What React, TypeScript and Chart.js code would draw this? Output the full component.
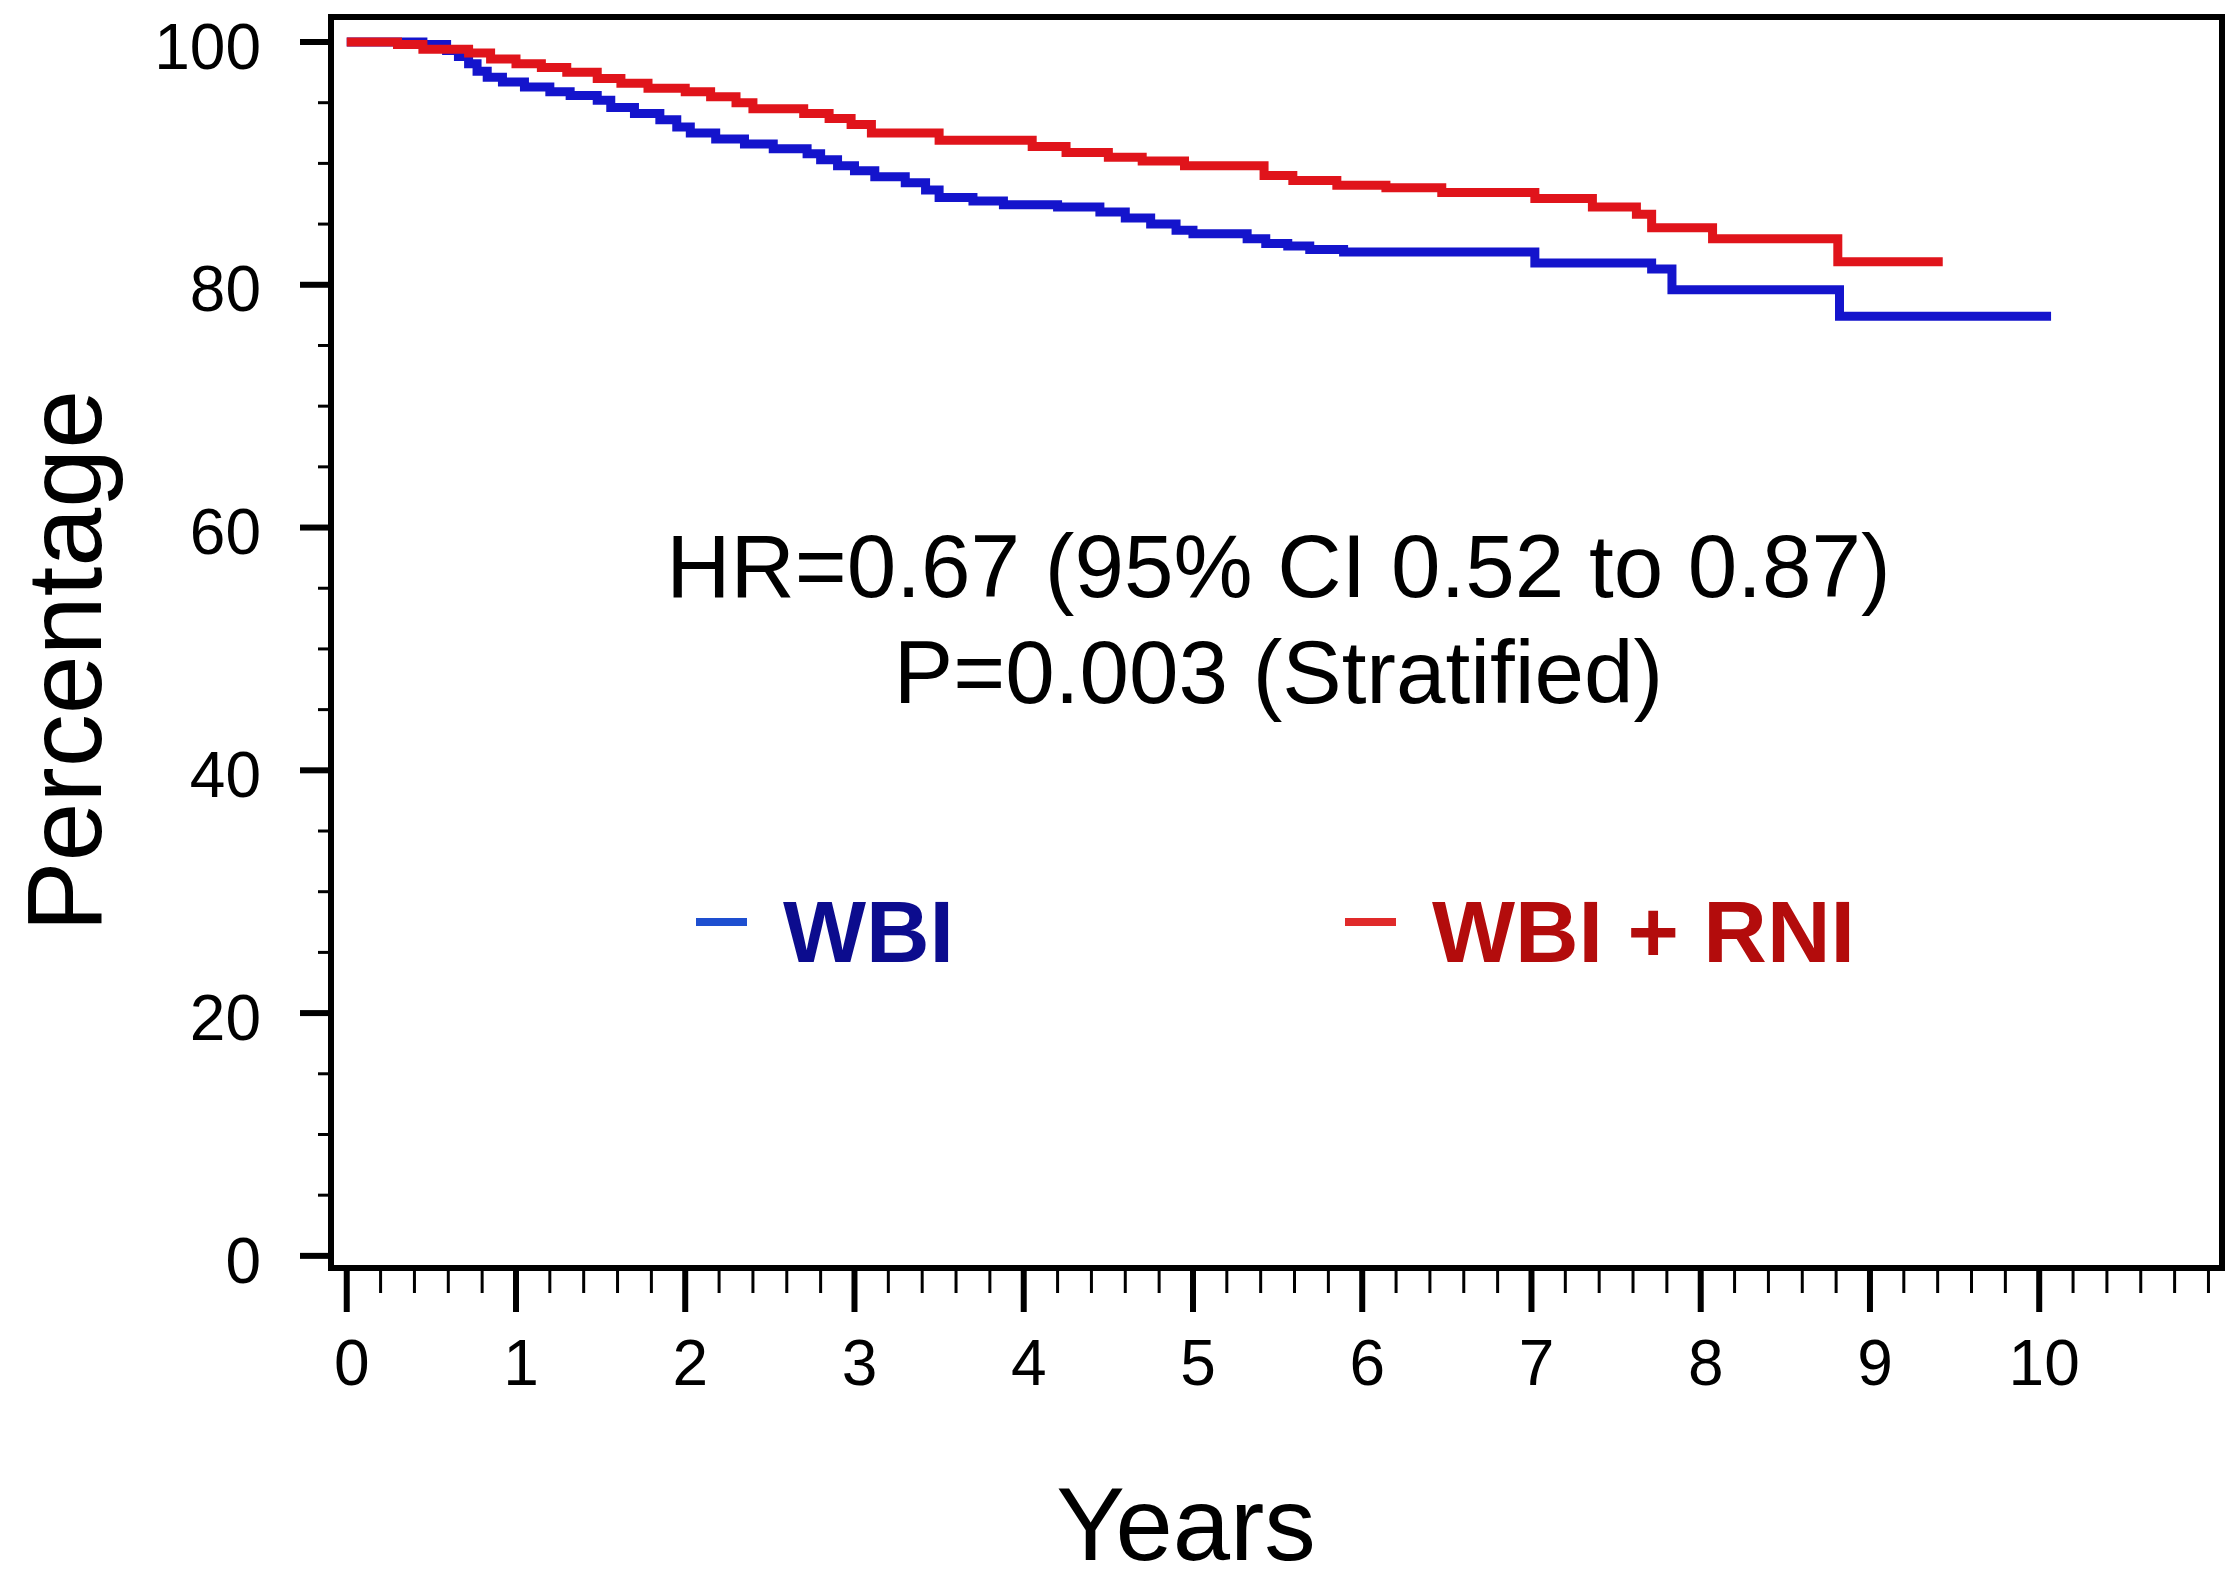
import React, { useEffect, useRef } from "react";
import { Chart, registerables } from "chart.js";

Chart.register(...registerables);

// ---- data (Kaplan–Meier style step curves) ----
const wbiYears = [0, 0.45, 0.59, 0.66, 0.72, 0.77, 0.83, 0.92, 1.05, 1.2, 1.32, 1.48, 1.56, 1.7, 1.85, 1.95, 2.03, 2.18, 2.35, 2.52, 2.72, 2.8, 2.9, 3.0, 3.12, 3.3, 3.42, 3.5, 3.7, 3.88, 4.2, 4.45, 4.6, 4.75, 4.9, 5.0, 5.32, 5.43, 5.56, 5.69, 5.89, 7.02, 7.71, 7.83, 8.82, 10.07];
const wbiPct = [100, 99.8, 99.3, 98.8, 98.2, 97.6, 97.1, 96.7, 96.3, 95.9, 95.6, 95.2, 94.6, 94.1, 93.6, 93.0, 92.5, 92.0, 91.6, 91.2, 90.8, 90.3, 89.8, 89.4, 88.9, 88.4, 87.8, 87.2, 86.9, 86.6, 86.4, 86.0, 85.5, 85.0, 84.5, 84.2, 83.8, 83.4, 83.2, 82.9, 82.7, 81.8, 81.3, 79.6, 77.4, 77.4];

const rniYears = [0, 0.3, 0.45, 0.72, 0.85, 1.0, 1.15, 1.3, 1.48, 1.62, 1.78, 2.0, 2.15, 2.3, 2.4, 2.7, 2.85, 2.98, 3.1, 3.5, 4.05, 4.25, 4.5, 4.7, 4.95, 5.42, 5.59, 5.85, 6.14, 6.47, 7.02, 7.36, 7.62, 7.71, 8.07, 8.81, 9.43];
const rniPct = [100, 99.8, 99.4, 99.1, 98.6, 98.2, 97.9, 97.5, 97.0, 96.6, 96.2, 95.9, 95.5, 95.0, 94.5, 94.1, 93.7, 93.2, 92.5, 91.9, 91.4, 90.9, 90.5, 90.2, 89.8, 89.0, 88.6, 88.2, 88.0, 87.6, 87.1, 86.4, 85.8, 84.7, 83.8, 81.9, 81.9];

const xTickValues = [0, 1, 2, 3, 4, 5, 6, 7, 8, 9, 10];
const yTickValues = [0, 20, 40, 60, 80, 100];
const xMinorStep = 0.2;
const yMinorStep = 5;
const xTitle = "Years";
const yTitle = "Percentage";
const annotationLines = ["HR=0.67 (95% CI 0.52 to 0.87)", "P=0.003 (Stratified)"];
const seriesLabels = ["WBI", "WBI + RNI"];

const FONT = '"Liberation Sans", Arial, Helvetica, sans-serif';
const BLUE = "#1414cc";
const RED = "#e0141b";

const decorPlugin = {
  id: "kmDecor",
  afterDraw(chart: any) {
    const { ctx, chartArea: a } = chart;
    const x = chart.scales.x;
    const y = chart.scales.y;
    ctx.save();
    ctx.strokeStyle = "#000";
    ctx.lineCap = "butt";

    // y tick marks
    for (let v = 0; v <= 100 + 1e-9; v += yMinorStep) {
      const py = y.getPixelForValue(v);
      const major = yTickValues.includes(Math.round(v));
      ctx.lineWidth = major ? 6 : 3;
      ctx.beginPath();
      ctx.moveTo(a.left - (major ? 31 : 13), py);
      ctx.lineTo(a.left, py);
      ctx.stroke();
    }
    // x tick marks
    for (let i = 0; i <= 55; i++) {
      const v = Math.round(i * xMinorStep * 100) / 100;
      const px = x.getPixelForValue(v);
      const major = xTickValues.includes(v);
      ctx.lineWidth = major ? 6 : 3;
      ctx.beginPath();
      ctx.moveTo(px, a.bottom);
      ctx.lineTo(px, a.bottom + (major ? 44 : 25));
      ctx.stroke();
    }
    // frame
    ctx.lineWidth = 6;
    ctx.strokeRect(a.left, a.top, a.right - a.left, a.bottom - a.top);

    // axis titles
    ctx.fillStyle = "#000";
    ctx.textAlign = "center";
    ctx.textBaseline = "alphabetic";
    ctx.font = `103px ${FONT}`;
    ctx.fillText(xTitle, 1186, 1560);
    ctx.save();
    ctx.translate(101, 661);
    ctx.rotate(-Math.PI / 2);
    ctx.font = `106px ${FONT}`;
    ctx.fillText(yTitle, 0, 0);
    ctx.restore();

    // annotation
    const cx = (a.left + a.right) / 2 + 2;
    ctx.font = `89px ${FONT}`;
    ctx.fillText(annotationLines[0], cx, 597);
    ctx.fillText(annotationLines[1], cx, 703);

    // legend
    ctx.textAlign = "left";
    ctx.font = `bold 88px ${FONT}`;
    ctx.lineWidth = 8;
    ctx.strokeStyle = "#1e4fd0";
    ctx.beginPath();
    ctx.moveTo(696, 922);
    ctx.lineTo(747, 922);
    ctx.stroke();
    ctx.fillStyle = "#0c0c8e";
    ctx.fillText(seriesLabels[0], 783, 962);

    ctx.strokeStyle = "#e02a2a";
    ctx.beginPath();
    ctx.moveTo(1345, 922);
    ctx.lineTo(1396, 922);
    ctx.stroke();
    ctx.fillStyle = "#b30c0c";
    ctx.fillText(seriesLabels[1], 1432, 962);

    ctx.restore();
  },
};

const zeroPadding = (scale: any) => {
  scale.paddingTop = 0;
  scale.paddingBottom = 0;
  scale.paddingLeft = 0;
  scale.paddingRight = 0;
};

export default function App() {
  const canvasRef = useRef<HTMLCanvasElement | null>(null);

  useEffect(() => {
    const canvas = canvasRef.current;
    if (!canvas) return;
    const chart = new Chart(canvas, {
      type: "line",
      data: {
        datasets: [
          {
            label: seriesLabels[1],
            data: rniYears.map((t, i) => ({ x: t, y: rniPct[i] })),
            borderColor: RED,
            borderWidth: 9,
            pointRadius: 0,
            stepped: true,
            fill: false,
            order: 0,
          },
          {
            label: seriesLabels[0],
            data: wbiYears.map((t, i) => ({ x: t, y: wbiPct[i] })),
            borderColor: BLUE,
            borderWidth: 9,
            pointRadius: 0,
            stepped: true,
            fill: false,
            order: 1,
          },
        ],
      },
      options: {
        animation: false,
        responsive: false,
        devicePixelRatio: 1,
        layout: { autoPadding: false, padding: { left: 0, right: 11, top: 17, bottom: 0 } },
        plugins: { legend: { display: false }, tooltip: { enabled: false } },
        scales: {
          x: {
            type: "linear",
            min: -0.093,
            max: 11.08,
            grid: { display: false, drawTicks: false },
            border: { display: false },
            afterBuildTicks: (scale: any) => {
              scale.ticks = xTickValues.map((v) => ({ value: v }));
            },
            afterFit: (scale: any) => {
              scale.height = 302;
              zeroPadding(scale);
            },
            ticks: {
              autoSkip: false,
              maxRotation: 0,
              padding: 61,
              labelOffset: 5,
              color: "#000",
              font: { family: FONT, size: 64 },
              callback: (v: any) => String(v),
            },
          },
          y: {
            type: "linear",
            min: -1,
            max: 102.06,
            grid: { display: false, drawTicks: false },
            border: { display: false },
            afterBuildTicks: (scale: any) => {
              scale.ticks = yTickValues.map((v) => ({ value: v }));
            },
            afterFit: (scale: any) => {
              scale.width = 331;
              zeroPadding(scale);
            },
            ticks: {
              autoSkip: false,
              padding: 70,
              labelOffset: 9,
              color: "#000",
              font: { family: FONT, size: 64 },
              callback: (v: any) => String(v),
            },
          },
        },
      },
      plugins: [decorPlugin],
    } as any);
    return () => chart.destroy();
  }, []);

  return (
    <div style={{ position: "fixed", left: 0, top: 0, width: 2233, height: 1570, background: "#fff" }}>
      <canvas ref={canvasRef} width={2233} height={1570} style={{ display: "block" }} />
    </div>
  );
}
